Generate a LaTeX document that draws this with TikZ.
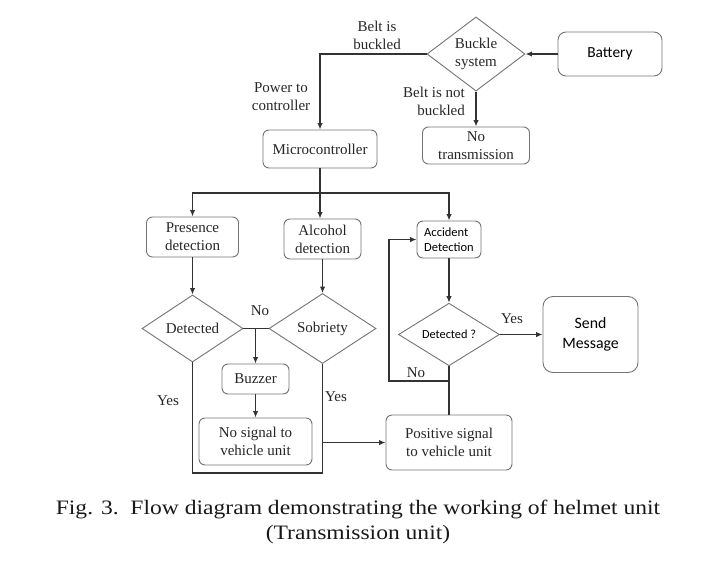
\documentclass[tikz,border=0pt]{standalone}
\usepackage{fontspec}
\setmainfont{Liberation Serif}
\newfontfamily\calib{Carlito}
\newfontfamily\capfont[FakeStretch=1.15]{Liberation Serif}
\usetikzlibrary{shapes.geometric,arrows.meta}
\begin{document}
\begin{tikzpicture}[x=1pt,y=-1pt,
  txt/.style={font=\fontsize{15}{18}\selectfont, text=black!85},
  box/.style={draw=black!55, line width=0.9pt, rounded corners=6pt, align=center, inner sep=0pt, txt},
  dia/.style={diamond, draw=black!55, line width=0.9pt, inner sep=0pt, align=center, txt},
  sbox/.style={box, font=\calib\fontsize{15.4}{19}\selectfont, text=black},
  conn/.style={draw=black!80, line width=1.8pt},
  arr/.style={conn, -{Latex[length=6.5pt,width=5.5pt]}},
  lab/.style={align=center, inner sep=0pt, txt}]
\useasboundingbox (0,0) rectangle (720,565);
% nodes
\node[sbox, minimum width=104pt, minimum height=44pt, rounded corners=8pt] (battery) at (610,54) {Battery};
\node[dia, minimum width=98pt, minimum height=58pt] (buckle) at (476,54) {Buckle\\system};
\node[box, minimum width=114pt, minimum height=38pt] (micro) at (320,149) {Microcontroller};
\node[box, minimum width=107pt, minimum height=37pt] (notx) at (476,145.5) {No\\transmission};
\node[box, minimum width=92pt, minimum height=40pt] (pres) at (192.5,237) {Presence\\detection};
\node[box, minimum width=77pt, minimum height=40pt] (alc) at (322.5,239) {Alcohol\\detection};
\node[box, minimum width=64pt, minimum height=37pt, font=\calib\fontsize{12.5}{15}\selectfont, text=black, align=left] (acc) at (449,239.5) {Accident\\Detection};
\node[dia, minimum width=101pt, minimum height=67pt] (det1) at (192.5,328.5) {Detected};
\node[dia, minimum width=107pt, minimum height=70pt] (sob) at (322.5,328.5) {Sobriety};
\node[dia, minimum width=101pt, minimum height=55pt, font=\calib\fontsize{12.3}{15}\selectfont, text=black] (detq) at (449,334.5) {Detected ?};
\node[sbox, minimum width=95pt, minimum height=76pt, rounded corners=10pt, font=\calib\fontsize{15.8}{20}\selectfont] (send) at (590.5,334.5) {Send\\Message};
\node[box, minimum width=67pt, minimum height=30pt] (buzz) at (255.5,379) {Buzzer};
\node[box, minimum width=113pt, minimum height=47pt] (nosig) at (255.5,441.5) {No signal to\\vehicle unit};
\node[box, minimum width=126pt, minimum height=55pt] (pos) at (449,442.5) {Positive signal\\to vehicle unit};
% coordinates
\coordinate (split) at (320,193);
\coordinate (ybot) at (0,473);
\coordinate (loopl) at (389,381);
% connectors
\draw[arr] (battery.west) -- (buckle.east);
\draw[arr] (buckle.west) -| (micro.north);
\draw[arr] (buckle.south) -- (notx.north);
\draw[conn] (micro.south) -- (split);
\draw[arr] (split) -| (pres.north);
\draw[arr] (split) -| (acc.north);
\draw[arr] (micro.south) -- (micro.south |- alc.north);
\draw[arr] (pres.south) -- (det1.north);
\draw[arr] (alc.south) -- (sob.north);
\draw[arr] (acc.south) -- (detq.north);
\draw[conn] (det1.east) -- (sob.west);
\draw[arr] (buzz.north |- det1.east) -- (buzz.north);
\draw[arr] (buzz.south) -- (nosig.north);
\draw[conn] (det1.south) |- (sob.south |- ybot) -- (sob.south);
\draw[arr] (sob.south |- pos.west) -- (pos.west);
\draw[arr] (detq.east) -- (send.west);
\draw[conn] (detq.south) -- (pos.north);
\draw[arr] (detq.south |- loopl) -- (loopl) |- (acc.west);
% labels
\node[lab] (lbuck) at (377,35) {Belt is\\buckled};
\node[lab] (lpow) at (281,97) {Power to\\controller};
\node[lab, align=right] (lnot) at (434,101) {Belt is not\\buckled};
\node[lab] (lyes3) at (512,319) {Yes};
\node[lab] (lno2) at (416,373) {No};
\node[lab] (lno1) at (260,311) {No};
\node[lab] (lyes1) at (168,401) {Yes};
\node[lab] (lyes2) at (336,397) {Yes};
\node[align=center, inner sep=0pt, text=black!90, font=\capfont\fontsize{20.5}{25.5}\selectfont] (cap) at (358,522) {Fig. 3.\ \ Flow diagram demonstrating the working of helmet unit\\(Transmission unit)};
\end{tikzpicture}
\end{document}
